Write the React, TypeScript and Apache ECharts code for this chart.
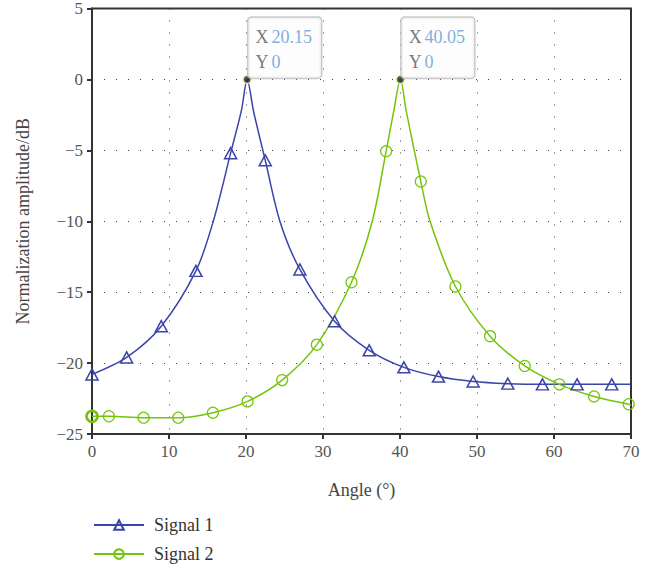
import React, { useEffect, useRef } from "react";
import * as echarts from "echarts";

// Angles (deg) and normalised amplitudes (dB) of the plotted marker points
const signal1MarkerAngles = [0, 4.5, 9, 13.5, 18, 22.5, 27, 31.5, 36, 40.5, 45, 49.5, 54, 58.5, 63, 67.5];
const signal1MarkerValues = [-20.8, -19.6, -17.4, -13.5, -5.2, -5.7, -13.4, -17.05, -19.1, -20.3, -20.95, -21.3, -21.45, -21.5, -21.5, -21.5];
// Further points along the Signal 1 curve (no marker drawn)
const signal1CurveAngles = [15.75, 19.4, 20.15, 21.0, 24.4, 70];
const signal1CurveValues = [-10.0, -2.2, 0, -2.3, -10.0, -21.5];

const signal2MarkerAngles = [0, 2.2, 6.7, 11.2, 15.7, 20.2, 24.7, 29.2, 33.7, 38.2, 42.7, 47.2, 51.7, 56.2, 60.7, 65.2, 69.7];
const signal2MarkerValues = [-23.75, -23.75, -23.85, -23.85, -23.5, -22.7, -21.2, -18.7, -14.3, -5.06, -7.2, -14.6, -18.1, -20.2, -21.5, -22.35, -22.9];
const signal2CurveAngles = [36.4, 39.2, 40.05, 40.8, 43.9, 70];
const signal2CurveValues = [-10.0, -2.2, 0, -2.2, -10.0, -22.95];

// Highlighted peaks
const peakAngles = [20.15, 40.05];
const peakValues = [0, 0];

const seriesNames = ["Signal 1", "Signal 2"];
const xTicks = { min: 0, max: 70, interval: 10 };
const yTicks = { min: -25, max: 5, interval: 5 };

const FONT = "Liberation Serif";
const BLUE = "#3b44a8";
const GREEN = "#74c40a";

type Pt = { value: [number, number]; symbol?: string; itemStyle?: any };

function buildData(mx: number[], my: number[], cx: number[], cy: number[]): Pt[] {
  const pts: Pt[] = [];
  mx.forEach((x, i) => pts.push({ value: [x, my[i]] }));
  cx.forEach((x, i) => pts.push({ value: [x, cy[i]], symbol: "none" }));
  pts.sort((a, b) => a.value[0] - b.value[0]);
  return pts;
}

export default function App() {
  const ref = useRef<HTMLDivElement>(null);

  useEffect(() => {
    if (!ref.current) return;
    const chart = echarts.init(ref.current, null, { renderer: "svg" });

    const s1 = buildData(signal1MarkerAngles, signal1MarkerValues, signal1CurveAngles, signal1CurveValues);
    const s2 = buildData(signal2MarkerAngles, signal2MarkerValues, signal2CurveAngles, signal2CurveValues);
    // the first Signal 2 marker is drawn heavier
    s2[0] = { ...s2[0], itemStyle: { borderWidth: 2.6 } };

    const minus = (v: number) => String(v).replace("-", "\u2212");

    chart.setOption({
      animation: false,
      textStyle: { fontFamily: FONT },
      grid: {
        left: 92,
        right: 27,
        top: 7,
        bottom: 137,
        show: true,
        borderColor: "#333",
        borderWidth: 2,
        backgroundColor: "transparent",
      },
      legend: {
        orient: "vertical",
        left: 93,
        top: 516,
        padding: 0,
        itemWidth: 50,
        itemHeight: 12,
        itemGap: 11,
        data: seriesNames,
        textStyle: { fontFamily: FONT, fontSize: 18, color: "#333", padding: [0, 0, 0, 5] },
      },
      xAxis: {
        type: "value",
        min: xTicks.min,
        max: xTicks.max,
        interval: xTicks.interval,
        name: "Angle (\u00b0)",
        nameLocation: "middle",
        nameGap: 47,
        nameTextStyle: { fontFamily: FONT, fontSize: 18, color: "#444" },
        axisLine: { show: true, onZero: false, lineStyle: { color: "#333", width: 2 } },
        axisTick: { show: true, length: 5, lineStyle: { color: "#333", width: 2 } },
        axisLabel: { fontFamily: FONT, fontSize: 17, color: "#555", margin: 9 },
        splitLine: { show: true, lineStyle: { color: "#444", width: 1, type: [1, 11] } },
      },
      yAxis: {
        type: "value",
        min: yTicks.min,
        max: yTicks.max,
        interval: yTicks.interval,
        name: "Normalization amplitude/dB",
        nameLocation: "middle",
        nameGap: 60,
        nameTextStyle: { fontFamily: FONT, fontSize: 18, color: "#444" },
        axisLine: { show: true, onZero: false, lineStyle: { color: "#333", width: 2 } },
        axisTick: { show: true, length: 5, lineStyle: { color: "#333", width: 2 } },
        axisLabel: { fontFamily: FONT, fontSize: 17, color: "#555", margin: 9, formatter: minus },
        splitLine: { show: true, lineStyle: { color: "#444", width: 1, type: [1, 11] } },
      },
      series: [
        {
          name: seriesNames[0],
          type: "line",
          data: s1,
          smooth: 0.3,
          symbol: "triangle",
          symbolSize: [12, 11],
          showAllSymbol: true,
          lineStyle: { color: BLUE, width: 1.5 },
          itemStyle: { color: "rgba(255,255,255,0)", borderColor: BLUE, borderWidth: 1.5 },
          z: 3,
        },
        {
          name: seriesNames[1],
          type: "line",
          data: s2,
          smooth: 0.3,
          symbol: "circle",
          symbolSize: 11,
          showAllSymbol: true,
          lineStyle: { color: GREEN, width: 1.5 },
          itemStyle: { color: "rgba(255,255,255,0)", borderColor: GREEN, borderWidth: 1.2 },
          z: 3,
        },
        {
          name: "peaks",
          type: "scatter",
          data: peakAngles.map((x, i) => [x, peakValues[i]]),
          symbol: "circle",
          symbolSize: 8,
          itemStyle: { color: "#222", borderColor: "#f3ecb4", borderWidth: 1.5 },
          z: 5,
          label: {
            show: true,
            position: [6, 3],
            align: "left",
            verticalAlign: "bottom",
            backgroundColor: "#fdfdfd",
            borderColor: "#bbb",
            borderWidth: 1.5,
            borderRadius: 3,
            padding: [7, 9, 3, 7],
            formatter: (p: any) => `{k|X} {v|${p.value[0]}}\n{k|Y} {v|${p.value[1]}}`,
            rich: {
              k: { fontFamily: FONT, fontSize: 18, color: "#555", lineHeight: 25 },
              v: { fontFamily: FONT, fontSize: 18, color: "#5b9bd5", lineHeight: 25 },
            },
          },
        },
      ],
    });

    return () => chart.dispose();
  }, []);

  return (
    <div
      ref={ref}
      style={{ position: "absolute", left: 0, top: 0, width: 658, height: 571, background: "#fff" }}
    />
  );
}
